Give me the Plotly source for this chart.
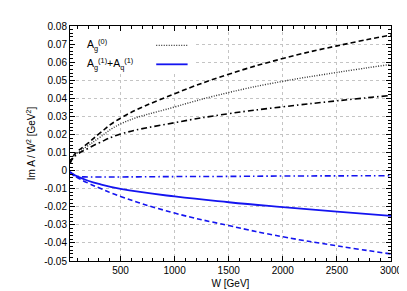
import plotly.graph_objects as go

W = [33, 60, 100, 200, 300, 500, 1000, 1500, 2000, 2500, 3000]

g0_dashed   = [0.004, 0.0078, 0.0105, 0.0152, 0.0203, 0.0290, 0.0425, 0.0533, 0.0620, 0.0690, 0.0750]
g0_dotted   = [0.004, 0.0073, 0.0098, 0.0138, 0.0180, 0.0258, 0.0352, 0.0432, 0.0494, 0.0543, 0.0588]
g0_dashdot  = [0.004, 0.0068, 0.0090, 0.0123, 0.0153, 0.0202, 0.0265, 0.0315, 0.0353, 0.0386, 0.0416]

gq1_dashdot = [-0.0007, -0.0024, -0.0032, -0.0035, -0.0035, -0.0035, -0.0033, -0.0032, -0.0030, -0.0029, -0.0028]
gq1_solid   = [-0.0007, -0.0019, -0.0032, -0.0056, -0.0074, -0.0101, -0.0143, -0.0175, -0.0202, -0.0227, -0.0250]
gq1_dashed  = [-0.0007, -0.0021, -0.0038, -0.0069, -0.0095, -0.0143, -0.0235, -0.0304, -0.0366, -0.0416, -0.0461]

x_ticks = [500, 1000, 1500, 2000, 2500, 3000]
x_labels = ["500", "1000", "1500", "2000", "2500", "3000"]
y_ticks = [0.08, 0.07, 0.06, 0.05, 0.04, 0.03, 0.02, 0.01, 0, -0.01, -0.02, -0.03, -0.04, -0.05]
y_labels = ["0.08", "0.07", "0.06", "0.05", "0.04", "0.03", "0.02", "0.01", "0",
            "-0.01", "-0.02", "-0.03", "-0.04", "-0.05"]

legend_labels = ["A<sub>g</sub><sup>(0)</sup>", "A<sub>g</sub><sup>(1)</sup>+A<sub>q</sub><sup>(1)</sup>"]

BLUE = "#1414f0"
fig = go.Figure()

def add(y, color, dash, width):
    fig.add_trace(go.Scatter(x=W, y=y, mode="lines",
                             line=dict(color=color, dash=dash, width=width, shape="spline", smoothing=1.3),
                             showlegend=False, hoverinfo="skip"))

add(g0_dashed, "black", "5px,3px", 1.6)
add(g0_dotted, "#333333", "1px,1.5px", 1.4)
add(g0_dashdot, "black", "6px,3px,1.5px,3px", 1.6)
add(gq1_dashdot, BLUE, "6px,3px,1.5px,3px", 1.6)
add(gq1_solid, BLUE, "solid", 1.8)
add(gq1_dashed, BLUE, "5px,3px", 1.6)

font = dict(family="Liberation Sans, Arial, sans-serif", size=10, color="black")

axis_common = dict(
    showline=True, linecolor="black", linewidth=1, mirror=True,
    ticks="inside", ticklen=5, tickcolor="black", tickwidth=1,
    showgrid=True, gridcolor="#c4c4c4", griddash="dot", gridwidth=1,
    zeroline=False, tickfont=font,
)
xminor = dict(dtick=100, tick0=0, ticks="inside", ticklen=3, tickcolor="black", showgrid=False)
yminor = dict(dtick=0.002, tick0=0, ticks="inside", ticklen=3, tickcolor="black", showgrid=False)

fig.update_xaxes(range=[33, 3000], tickvals=x_ticks, ticktext=x_labels, minor=xminor,
                 title=dict(text="W [GeV]", font=font, standoff=4), **axis_common)
fig.update_yaxes(range=[-0.05, 0.08], tickvals=y_ticks, ticktext=y_labels, minor=yminor,
                 title=dict(text="Im A / W<sup>2</sup> [GeV<sup>2</sup>]", font=font, standoff=6), **axis_common)

# mirrored tick axes (top / right) carrying major + minor ticks
fig.update_layout(
    xaxis2=dict(overlaying="x", side="top", matches="x", range=[33, 3000], tickvals=x_ticks,
                showticklabels=False, ticks="inside", ticklen=5, tickcolor="black",
                minor=xminor, showgrid=False, zeroline=False, showline=False),
    yaxis2=dict(overlaying="y", side="right", matches="y", range=[-0.05, 0.08], tickvals=y_ticks,
                showticklabels=False, ticks="inside", ticklen=5, tickcolor="black",
                minor=yminor, showgrid=False, zeroline=False, showline=False),
)
fig.add_trace(go.Scatter(x=[None], y=[None], xaxis="x2", yaxis="y2", showlegend=False, hoverinfo="skip"))

# opaque key box (covers grid) and key entries
fig.add_shape(type="rect", xref="x", yref="y", x0=33, x1=1190, y0=0.055, y1=0.08,
              fillcolor="white", line=dict(width=0), layer="between")
fig.add_shape(type="line", xref="x", yref="y", x0=830, x1=1120, y0=0.0693, y1=0.0693,
              line=dict(color="#333333", dash="1px,1.5px", width=1.4))
fig.add_shape(type="line", xref="x", yref="y", x0=830, x1=1120, y0=0.0588, y1=0.0588,
              line=dict(color=BLUE, width=1.8))
fig.add_annotation(xref="x", yref="y", x=175, y=0.0693, text=legend_labels[0], showarrow=False,
                   xanchor="left", yanchor="middle", font=dict(font, size=10.5))
fig.add_annotation(xref="x", yref="y", x=175, y=0.0588, text=legend_labels[1], showarrow=False,
                   xanchor="left", yanchor="middle", font=dict(font, size=10.5))

fig.update_layout(width=407, height=291, margin=dict(l=62, r=21, t=14, b=37),
                  plot_bgcolor="white", paper_bgcolor="white", font=font)

fig.write_html("out.html")
